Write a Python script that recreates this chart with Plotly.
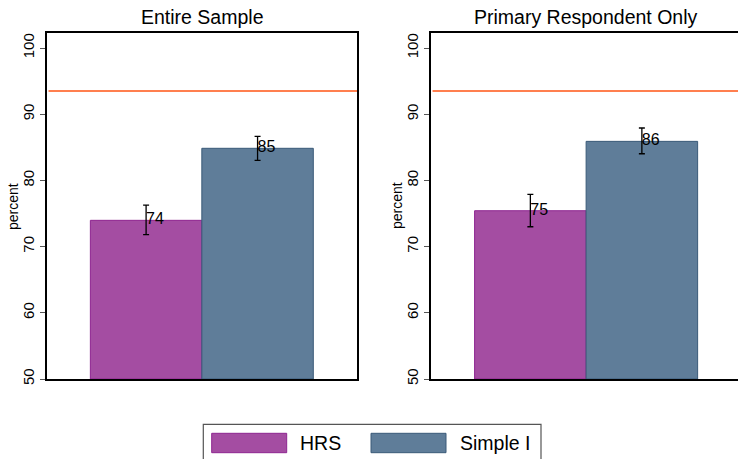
import plotly.graph_objects as go

panels = ["Entire Sample", "Primary Respondent Only"]
series = ["HRS", "Simple I"]
values = [[73.97, 84.85], [75.42, 85.9]]
err_hi = [[76.28, 86.66], [77.9, 87.92]]
err_lo = [[71.8, 83.03], [73.0, 84.03]]
labels = [["74", "85"], ["75", "86"]]
benchmark = 93.5
yticks = [50, 60, 70, 80, 90, 100]
ytitle = "percent"

fills = ["#A44DA2", "#5F7D99"]
edges = ["#8E2590", "#3A5A78"]
FONT = "Arial, Liberation Sans, sans-serif"
W, H = 738, 459

fig = go.Figure()

for p in range(2):
    xa = "x" if p == 0 else "x2"
    ya = "y" if p == 0 else "y2"
    for s in range(2):
        v = values[p][s]
        fig.add_trace(go.Bar(
            x=[s], y=[v - 50], base=50, width=1,
            marker=dict(color=fills[s], line=dict(color=edges[s], width=1)),
            error_y=dict(type="data", symmetric=False,
                         array=[err_hi[p][s] - v], arrayminus=[v - err_lo[p][s]],
                         color="black", thickness=1.3, width=3),
            xaxis=xa, yaxis=ya, showlegend=False, hoverinfo="skip"))
    fig.add_trace(go.Scatter(
        x=[0, 1], y=values[p], mode="text", text=labels[p],
        textposition="middle right", textfont=dict(size=16, color="black", family=FONT),
        xaxis=xa, yaxis=ya, showlegend=False, hoverinfo="skip"))
    fig.add_shape(type="line", xref=f"{xa} domain", yref=ya, x0=0.005, x1=1,
                  y0=benchmark, y1=benchmark, line=dict(color="#FF7F4F", width=2))

def px(v):
    return v / W

def py(v):
    return 1 - v / H

yaxis_common = dict(range=[50, 102.27], tickvals=yticks, tickangle=-90,
                    ticks="outside", ticklen=5, tickcolor="#555", tickwidth=1,
                    showgrid=False, zeroline=False, showline=True, linecolor="black",
                    linewidth=1.5, tickfont=dict(size=15, family=FONT, color="black"),
                    automargin=False,
                    domain=[py(379), py(33)])
xaxis_common = dict(showticklabels=False, ticks="", showgrid=False, zeroline=False,
                    showline=True, linecolor="black", linewidth=1.5, mirror=True,
                    automargin=False)

fig.update_layout(
    width=W, height=H, margin=dict(l=0, r=0, t=0, b=0, autoexpand=False),
    paper_bgcolor="white", plot_bgcolor="white",
    font=dict(family=FONT, color="black"),
    xaxis=dict(**xaxis_common, domain=[px(47), px(357)], range=[-0.889, 1.892]),
    xaxis2=dict(**xaxis_common, domain=[px(431), 1.0], range=[-0.891, 1.862]),
    yaxis=dict(**yaxis_common, anchor="x", mirror=True),
    yaxis2=dict(**yaxis_common, anchor="x2", mirror=False),
    barmode="overlay",
)

# y-axis titles
for cx in [13, 397]:
    fig.add_annotation(text=ytitle, xref="paper", yref="paper", x=px(cx), y=py(206),
                       xanchor="center", yanchor="middle", showarrow=False, textangle=-90,
                       font=dict(size=14, family=FONT, color="black"))

# panel titles
for p, cx in enumerate([202, 586]):
    fig.add_annotation(text=panels[p], xref="paper", yref="paper", x=px(cx), y=py(17),
                       xanchor="center", yanchor="middle", showarrow=False,
                       font=dict(size=19.5, family=FONT, color="black"))

# legend box
fig.add_shape(type="rect", xref="paper", yref="paper", x0=px(203.3), x1=px(541),
              y0=py(470), y1=py(424.3), line=dict(color="#555", width=1.2), fillcolor="white")
sw_x = [211.7, 371]
tx_x = [298, 458]
for s in range(2):
    fig.add_shape(type="rect", xref="paper", yref="paper", x0=px(sw_x[s]), x1=px(sw_x[s] + 75),
                  y0=py(452.7), y1=py(433.3), line=dict(color=edges[s], width=1),
                  fillcolor=fills[s])
    fig.add_annotation(text=series[s], xref="paper", yref="paper", x=px(tx_x[s]), y=py(443),
                       xanchor="left", yanchor="middle", showarrow=False,
                       font=dict(size=19.5, family=FONT, color="black"))

fig.write_html("out.html", config={"displayModeBar": False},
               post_script="document.body.style.margin='0px';document.body.style.padding='0px';")
